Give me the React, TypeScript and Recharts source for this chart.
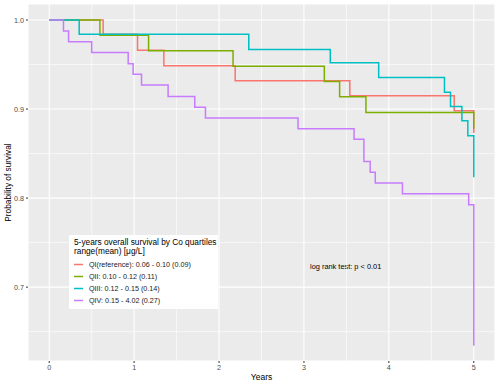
import { LineChart, Line, XAxis, YAxis, CartesianGrid, ReferenceLine, Legend } from "recharts";

// Kaplan-Meier steps: [years, survival]
const q1Times = [0, 0.635, 1.04, 1.35, 2.19, 3.54, 4.77, 5.0];
const q1Surv = [1.0, 0.984, 0.966, 0.9485, 0.9317, 0.915, 0.898, 0.873];

const q2Times = [0, 0.597, 1.17, 2.165, 3.24, 3.42, 3.73, 5.0];
const q2Surv = [1.0, 0.983, 0.9655, 0.948, 0.931, 0.9137, 0.896, 0.878];

const q3Times = [0, 0.353, 2.35, 3.31, 3.88, 4.655, 4.726, 4.86, 4.93, 5.0];
const q3Surv = [1.0, 0.984, 0.967, 0.952, 0.9355, 0.919, 0.903, 0.887, 0.87, 0.8233];

const q4Times = [0, 0.168, 0.228, 0.5, 0.93, 0.988, 1.087, 1.4, 1.714, 1.84, 2.93, 3.59, 3.706, 3.78, 3.84, 4.16, 4.94, 5.0];
const q4Surv = [1.0, 0.9876, 0.9756, 0.9636, 0.951, 0.939, 0.927, 0.914, 0.902, 0.89, 0.878, 0.866, 0.841, 0.829, 0.817, 0.805, 0.7925, 0.634];

const seriesNames = [
  "QI(reference): 0.06 - 0.10 (0.09)",
  "QII: 0.10 - 0.12 (0.11)",
  "QIII: 0.12 - 0.15 (0.14)",
  "QIV: 0.15 - 4.02 (0.27)",
];
const seriesColors = ["#F8766D", "#7CAE00", "#00BFC4", "#C77CFF"];

const xTicks = [0, 1, 2, 3, 4, 5];
const yTicks = [0.7, 0.8, 0.9, 1.0];
const xMinor = [0.5, 1.5, 2.5, 3.5, 4.5];
const yMinor = [0.65, 0.75, 0.85, 0.95];

const toPoints = (times: number[], surv: number[]) => times.map((t, i) => ({ t, s: surv[i] }));

const series = [
  toPoints(q1Times, q1Surv),
  toPoints(q2Times, q2Surv),
  toPoints(q3Times, q3Surv),
  toPoints(q4Times, q4Surv),
];

const FONT = "'Liberation Sans', Arial, Helvetica, sans-serif";

function LegendBox() {
  return (
    <div style={{ background: "#fff", width: 149, height: 74, boxSizing: "border-box", padding: "3px 0 0 5px", fontFamily: FONT }}>
      <div style={{ fontSize: 8.3, lineHeight: "9.4px", color: "#000", whiteSpace: "nowrap" }}>
        <div>5-years overall survival by Co quartiles</div>
        <div>range(mean) [μg/L]</div>
      </div>
      <div style={{ marginTop: 2 }}>
        {seriesNames.map((name, i) => (
          <div key={name} style={{ display: "flex", alignItems: "center", height: 11.9 }}>
            <svg width={9} height={3} style={{ marginRight: 6 }}>
              <line x1={0} x2={9} y1={1.5} y2={1.5} stroke={seriesColors[i]} strokeWidth={1.5} />
            </svg>
            <span style={{ fontSize: 7.2, color: "#1a1a1a", whiteSpace: "nowrap" }}>{name}</span>
          </div>
        ))}
      </div>
    </div>
  );
}

export default function App() {
  return (
    <div style={{ position: "absolute", left: 0, top: 0, width: 500, height: 383, background: "#fff", fontFamily: FONT }}>
      <LineChart width={500} height={383} margin={{ top: 4, right: 5, left: 0, bottom: 0 }}>
        <CartesianGrid fill="#EBEBEB" stroke="#fff" strokeWidth={1.1} />
        {xMinor.map((x) => (
          <ReferenceLine key={"x" + x} x={x} stroke="#fff" strokeWidth={0.6} />
        ))}
        {yMinor.map((y) => (
          <ReferenceLine key={"y" + y} y={y} stroke="#fff" strokeWidth={0.6} />
        ))}
        <XAxis
          dataKey="t"
          type="number"
          domain={[-0.25, 5.25]}
          ticks={xTicks}
          height={22}
          axisLine={false}
          tickSize={2}
          tickMargin={2}
          tickLine={{ stroke: "#333" }}
          tick={{ fontSize: 7.2, fill: "#4D4D4D", fontFamily: FONT }}
          allowDataOverflow
          label={() => (
            <text x={261.5} y={379.7} textAnchor="middle" fontSize={8.5} fill="#000" fontFamily={FONT}>
              Years
            </text>
          )}
        />
        <YAxis
          type="number"
          domain={[0.617, 1.018]}
          ticks={yTicks}
          width={28}
          axisLine={false}
          tickSize={2}
          tickMargin={2}
          tickLine={{ stroke: "#333" }}
          tick={{ fontSize: 7.2, fill: "#4D4D4D", fontFamily: FONT }}
          tickFormatter={(v: number) => v.toFixed(1)}
          allowDataOverflow
          label={() => (
            <text x={11.4} y={182.5} transform="rotate(-90 11.4 182.5)" textAnchor="middle" fontSize={8.3} fill="#000" fontFamily={FONT}>
              Probability of survival
            </text>
          )}
        />
        {series.map((pts, i) => (
          <Line
            key={seriesNames[i]}
            data={pts}
            dataKey="s"
            name={seriesNames[i]}
            type="stepAfter"
            stroke={seriesColors[i]}
            strokeWidth={1.5}
            dot={false}
            activeDot={false}
            isAnimationActive={false}
          />
        ))}
        <Legend
          layout="vertical"
          align="center"
          verticalAlign="middle"
          wrapperStyle={{ left: 69, top: 235, width: 149, height: 74 }}
          content={() => <LegendBox />}
        />
        <text x={310} y={268.6} fontSize={7.4} fill="#000" fontFamily={FONT}>
          log rank test: p &lt; 0.01
        </text>
      </LineChart>
    </div>
  );
}
